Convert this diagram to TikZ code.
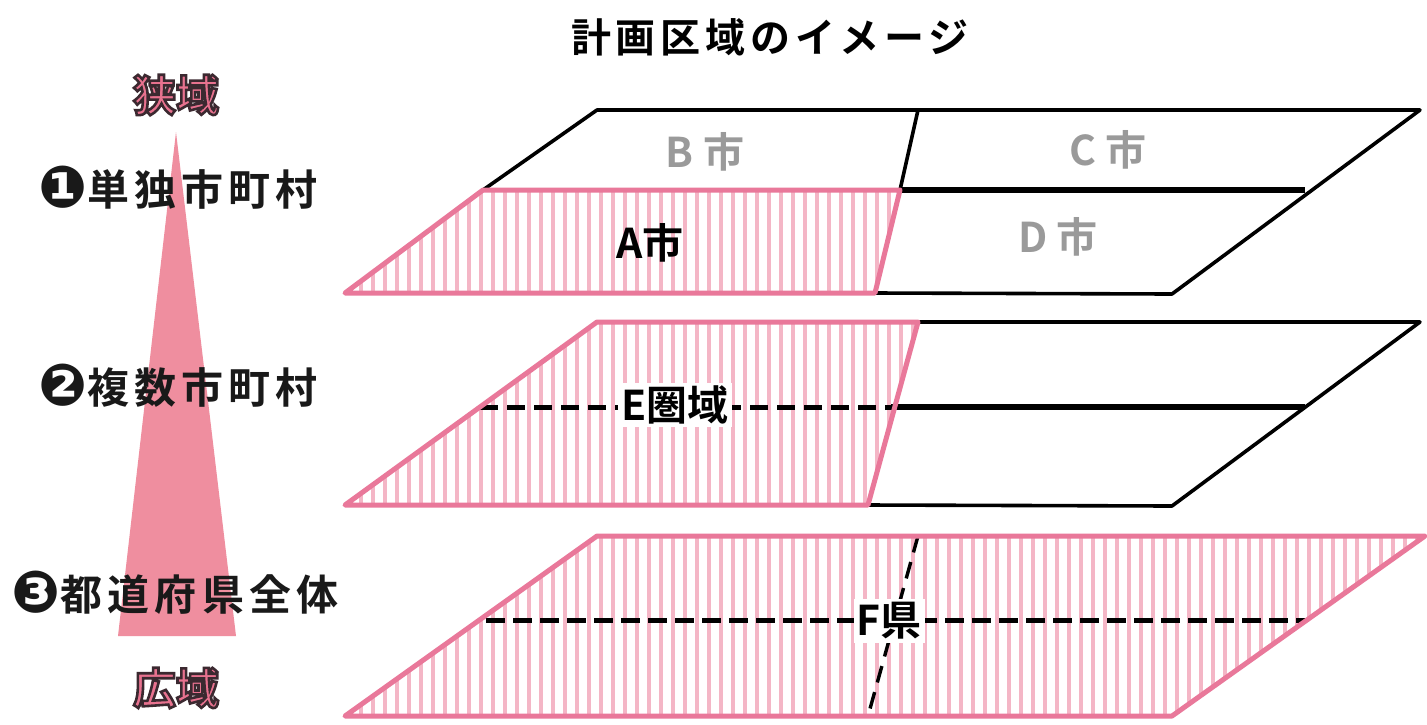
\documentclass[tikz,border=0pt]{standalone}
\usepackage{fontspec}
\newfontfamily\jp{Noto Sans CJK JP}[BoldFont={Noto Sans CJK JP Bold}]
\newfontfamily\jpw{Noto Sans CJK JP}[LetterSpace=12,BoldFont={Noto Sans CJK JP Bold}]
\newfontfamily\symf{DejaVu Sans}
\usetikzlibrary{calc}
\definecolor{pinkO}{HTML}{E9789A}
\definecolor{pinkH}{HTML}{F4B6C6}
\definecolor{pinkT}{HTML}{EF8E9F}
\definecolor{pinkW}{HTML}{E8728F}
\definecolor{grayT}{HTML}{9A9A9A}
\tikzset{
  pinkline/.style={draw=pinkO, line width=5pt, line join=round, line cap=round},
  blk/.style={draw=black, line width=3.6pt, line join=round},
  thickblk/.style={draw=black, line width=6pt},
  dashblk/.style={draw=black, line width=5pt, dash pattern=on 18pt off 9pt},
  dashthin/.style={draw=black, line width=3.4pt, dash pattern=on 17pt off 10pt},
  hatchline/.style={draw=pinkH, line width=4.5pt},
  leftlbl/.style={font=\jpw\bfseries\fontsize{42}{44}\selectfont, inner sep=0pt, text=black!90},
  maplbl/.style={font=\jp\bfseries\fontsize{41}{44}\selectfont, inner sep=0pt},
  graylbl/.style={maplbl, text=grayT},
  boxlbl/.style={maplbl, fill=white, inner sep=3pt},
  titlelbl/.style={font=\jpw\bfseries\fontsize{40}{44}\selectfont, inner sep=0pt},
  endlbl/.style={font=\jp\bfseries\fontsize{43}{46}\selectfont, inner sep=0pt, text=pinkW}
}
\newcommand{\strk}[1]{\special{pdf:literal direct 2 Tr 2.6 w 0.23 0.16 0.19 RG}#1\special{pdf:literal direct 0 Tr}}
\newcommand{\circnum}[1]{{\symf\fontsize{58}{58}\selectfont\raisebox{-0.04em}{#1}}}
\begin{document}
\begin{tikzpicture}[x=1pt,y=-1pt]
\useasboundingbox[fill=white] (0,0) rectangle (1427,724);

% ---------- title ----------
\node[titlelbl] (title) at (770,37) {計画区域のイメージ};

% ---------- left scale ----------
\coordinate (apex) at (176,132);
\coordinate (baseL) at (118,636);
\coordinate (baseR) at (236,636);
\fill[pinkT] (apex) -- (baseR) -- (baseL) -- cycle;
\node[endlbl] (narrow) at (176,95) {\strk{狭域}};
\node[endlbl] (wide) at (176,688) {\strk{広域}};
\node[leftlbl] (lv1) at (178,188) {\circnum{❶}単独市町村};
\node[leftlbl] (lv2) at (178,386) {\circnum{❷}複数市町村};
\node[leftlbl] (lv3) at (175,593) {\circnum{❸}都道府県全体};

% ---------- layer 1 ----------
\coordinate (a1) at (597,110);
\coordinate (a2) at (1420,110);
\coordinate (a3) at (1172,294);
\coordinate (a4) at (345,293);
\coordinate (am1) at (483,190);
\coordinate (am2) at (1305,190);
\coordinate (ad1) at (918,110);
\coordinate (ad2) at (900,190);
\coordinate (ad3) at (875,293);
\begin{scope}
  \clip (am1) -- (ad2) -- (ad3) -- (a4) -- cycle;
  \foreach \x in {349,361,...,905} \draw[hatchline] (\x,180) -- (\x,300);
\end{scope}
\draw[blk] (am1) -- (a1) -- (a2) -- (a3) -- (ad3);
\draw[blk] (ad1) -- (ad2);
\draw[thickblk] (ad2) -- (am2);
\draw[pinkline] (am1) -- (ad2) -- (ad3) -- (a4) -- cycle;
\node[graylbl] (B) at (705,152) {B 市};
\node[graylbl] (C) at (1108,150) {C 市};
\node[graylbl] (D) at (1058,237) {D 市};
\node[maplbl] (A) at (650,243) {A市};

% ---------- layer 2 ----------
\coordinate (b1) at (597,322);
\coordinate (b2) at (1420,322);
\coordinate (b3) at (1172,506);
\coordinate (b4) at (345,505);
\coordinate (bm1) at (480,407);
\coordinate (bm2) at (1305,407);
\coordinate (bd1) at (918,322);
\coordinate (bd3) at (868,505);
\coordinate (bdm) at (891,407);
\begin{scope}
  \clip (b1) -- (bd1) -- (bd3) -- (b4) -- cycle;
  \foreach \x in {349,361,...,925} \draw[hatchline] (\x,315) -- (\x,512);
\end{scope}
\draw[blk] (bd1) -- (b2) -- (b3) -- (bd3);
\draw[thickblk] (bdm) -- (bm2);
\draw[dashblk] (bm1) -- (bdm);
\draw[pinkline] (b1) -- (bd1) -- (bd3) -- (b4) -- cycle;
\node[boxlbl] (E) at (675,405) {E圏域};

% ---------- layer 3 ----------
\coordinate (c1) at (597,536);
\coordinate (c2) at (1425,536);
\coordinate (c3) at (1172,716);
\coordinate (c4) at (345,716);
\coordinate (cm1) at (486,620);
\coordinate (cm2) at (1305,620);
\coordinate (cd1) at (918,536);
\coordinate (cd2) at (868,716);
\begin{scope}
  \clip (c1) -- (c2) -- (c3) -- (c4) -- cycle;
  \foreach \x in {349,361,...,1430} \draw[hatchline] (\x,530) -- (\x,722);
\end{scope}
\draw[dashblk, dash pattern=on 19pt off 8pt] (cm1) -- (cm2);
\draw[dashthin] (cd1) -- (cd2);
\draw[pinkline] (c1) -- (c2) -- (c3) -- (c4) -- cycle;
\node[boxlbl] (F) at (889,621) {F県};
\end{tikzpicture}
\end{document}
